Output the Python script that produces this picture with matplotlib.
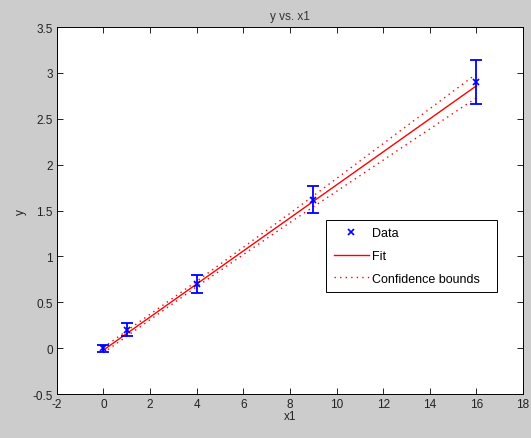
import matplotlib
matplotlib.use("Agg")
import matplotlib.pyplot as plt

# data
x_data = [0, 1, 4, 9, 16]
y_data = [0.0, 0.2, 0.70, 1.62, 2.90]
y_err = [0.04, 0.07, 0.10, 0.15, 0.24]

fit_x = [0, 4, 8, 12, 16]
fit_y = [-0.02, 0.70, 1.42, 2.14, 2.86]
upper_y = [0.01, 0.73, 1.47, 2.23, 2.99]
lower_y = [-0.05, 0.67, 1.37, 2.05, 2.73]

x_ticks = [-2, 0, 2, 4, 6, 8, 10, 12, 14, 16, 18]
y_ticks = [-0.5, 0, 0.5, 1, 1.5, 2, 2.5, 3, 3.5]
y_tick_labels = ['-0.5', '0', '0.5', '1', '1.5', '2', '2.5', '3', '3.5']

plt.rcParams['font.family'] = ['Liberation Sans', 'DejaVu Sans']
plt.rcParams['font.size'] = 8.5

fig = plt.figure(figsize=(5.31, 4.39), dpi=100, facecolor='#cccccc')
ax = fig.add_axes([0.107, 0.100, 0.878, 0.836])
ax.set_facecolor('white')

ax.errorbar(x_data, y_data, yerr=y_err, fmt='none', ecolor='blue',
            elinewidth=1.3, capsize=4, capthick=1.3, zorder=3)
ax.plot(x_data, y_data, 'x', color='blue', markersize=4, markeredgewidth=1.2,
        label='Data', zorder=4)
ax.plot(fit_x, fit_y, '-', color='red', linewidth=1, label='Fit')
ax.plot(fit_x, upper_y, color='red', linewidth=1, dashes=(1, 3),
        label='Confidence bounds')
ax.plot(fit_x, lower_y, color='red', linewidth=1, dashes=(1, 3))

ax.set_xlim(-2, 18)
ax.set_ylim(-0.5, 3.5)
ax.set_xticks(x_ticks)
ax.set_yticks(y_ticks)
ax.set_xticklabels([str(t) for t in x_ticks])
ax.set_yticklabels(y_tick_labels)
ax.tick_params(direction='in', top=True, right=True, length=4, width=0.6, pad=3,
               labelcolor='#222222')
for s in ax.spines.values():
    s.set_linewidth(0.7)

ax.set_title('y vs. x1', fontsize=8.5, pad=6, color='#333333')
ax.set_xlabel('x1', labelpad=0, color='#222222')
ax.set_ylabel('y', labelpad=4, color='#222222')

leg = ax.legend(loc='lower left', bbox_to_anchor=(0.564, 0.261, 0.393, 0.196),
                mode='expand', fancybox=False, framealpha=1, edgecolor='black',
                fontsize=9, handlelength=2.8, handletextpad=0.3,
                borderpad=0.6, labelspacing=0.85)
leg.get_frame().set_linewidth(0.7)

fig.savefig('out.png', dpi=100, facecolor=fig.get_facecolor())
